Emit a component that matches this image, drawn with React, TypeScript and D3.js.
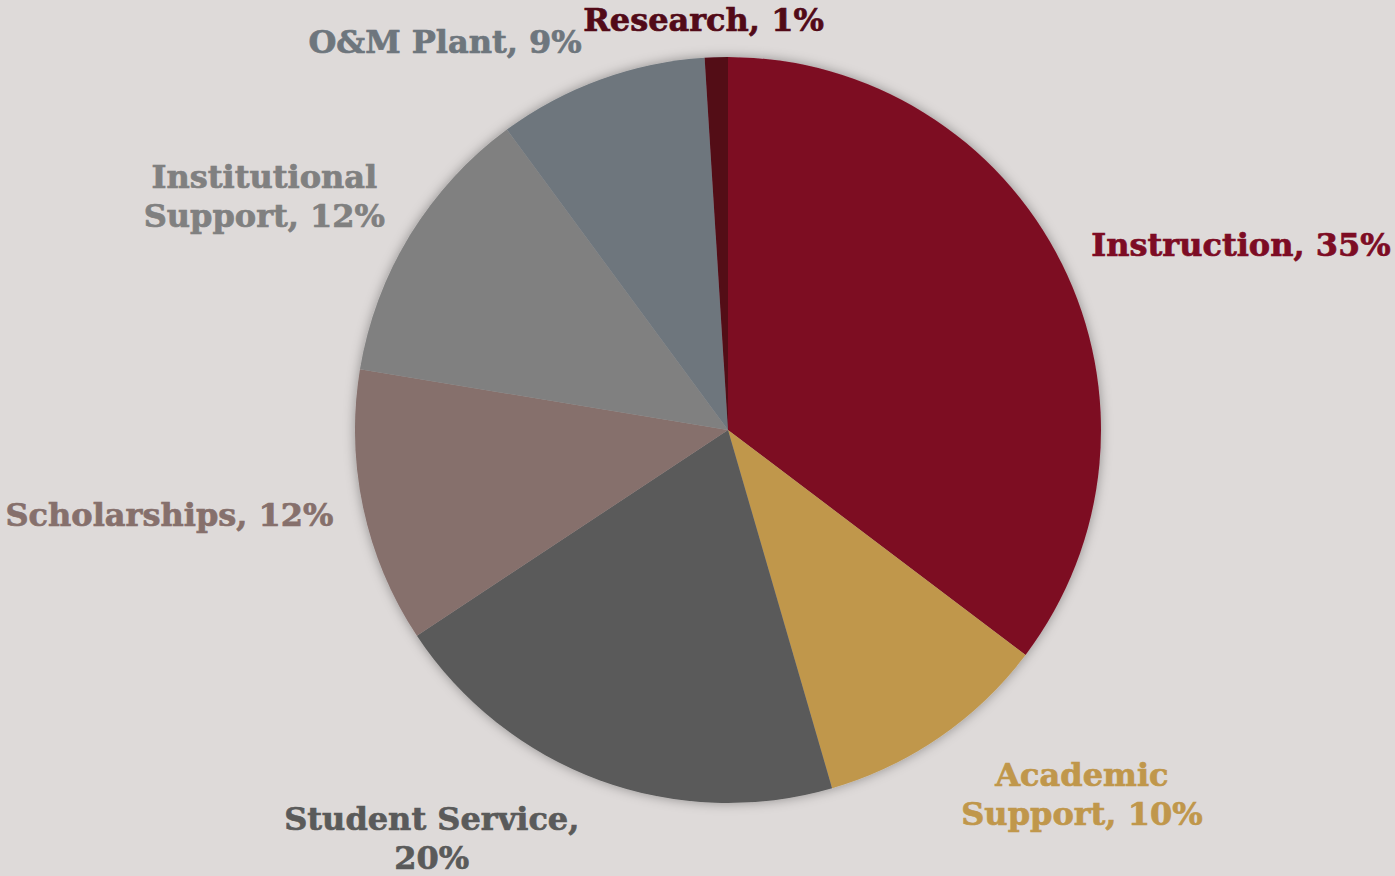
import React from "react";
import * as d3 from "d3";

const categories = [
  "Instruction",
  "Academic Support",
  "Student Service",
  "Scholarships",
  "Institutional Support",
  "O&M Plant",
  "Research",
];
const values = [35.3, 10.2, 20.2, 11.9, 12.3, 9.1, 1.0];
const colors = ["#7D0C24", "#C0974B", "#5A5A5A", "#86706C", "#808080", "#6E767D", "#520A18"];
const labelLines = [
  ["Instruction, 35%"],
  ["Academic", "Support, 10%"],
  ["Student Service,", "20%"],
  ["Scholarships, 12%"],
  ["Institutional", "Support, 12%"],
  ["O&M Plant, 9%"],
  ["Research, 1%"],
];
// label nudges relative to point on label circle
const labelNudges: [number, number][] = [
  [128, 18],
  [110, 2],
  [-148, -4],
  [-138, 6],
  [-97, -17],
  [-136, 27],
  [-11, 31],
];

const W = 1395;
const H = 876;
const cx = 728;
const cy = 430;
const R = 373;
const LR = 430;
const FONT = "'DejaVu Serif', Georgia, serif";
const FS = 32;
const LH = 39;

export default function App() {
  const pie = d3
    .pie<number>()
    .sort(null)
    .value((d) => d)
    .startAngle(0)
    .endAngle(2 * Math.PI);
  const arcs = pie(values);
  const arc = d3.arc<d3.PieArcDatum<number>>().innerRadius(0).outerRadius(R);

  return (
    <svg
      width={W}
      height={H}
      style={{ position: "absolute", left: 0, top: 0, display: "block" }}
    >
      <defs>
        <filter id="shadow" x="-20%" y="-20%" width="140%" height="140%">
          <feDropShadow dx="0" dy="0" stdDeviation="6" floodColor="#000" floodOpacity="0.35" />
        </filter>
      </defs>
      <rect x={0} y={0} width={W} height={H} fill="#DEDAD9" />
      <g transform={`translate(${cx},${cy})`}>
        <g filter="url(#shadow)">
          {arcs.map((a, i) => (
            <path key={i} d={arc(a) || ""} fill={colors[i]} />
          ))}
        </g>
      </g>
      {arcs.map((a, i) => {
        const mid = (a.startAngle + a.endAngle) / 2;
        const x = cx + LR * Math.sin(mid) + labelNudges[i][0];
        const y = cy - LR * Math.cos(mid) + labelNudges[i][1];
        return (
          <text
            key={categories[i]}
            x={x}
            y={y}
            textAnchor="middle"
            fill={colors[i]}
            stroke={colors[i]}
            strokeWidth={0.7}
            fontFamily={FONT}
            fontWeight="bold"
            fontSize={FS}
          >
            {labelLines[i].map((ln, j) => (
              <tspan key={j} x={x} dy={j === 0 ? 0 : LH}>
                {ln}
              </tspan>
            ))}
          </text>
        );
      })}
    </svg>
  );
}
